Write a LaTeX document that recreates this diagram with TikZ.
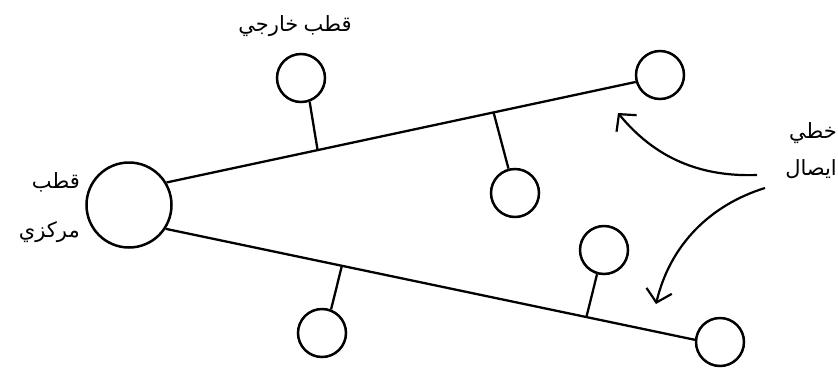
\documentclass[tikz,border=0pt]{standalone}
\usepackage{fontspec}
\newfontfamily\arabicfont[Script=Arabic]{DejaVu Sans}
\TeXXeTstate=1
\usetikzlibrary{arrows.meta}
\begin{document}
\begin{tikzpicture}[x=1pt,y=-1pt,
  pole/.style={draw,circle,line width=2.5pt,inner sep=0pt,minimum size=48pt},
  hub/.style={pole,minimum size=85pt},
  link/.style={line width=2.3pt},
  lbl/.style={font=\arabicfont\fontsize{21}{24}\selectfont,inner sep=0pt},
  pointer/.style={line width=2.2pt,-{Straight Barb[length=12pt,width=26pt]}}]
\useasboundingbox (0,0) rectangle (838,373);
\node[hub] (c) at (129,205) {};
\node[pole] (t) at (660,75) {};
\node[pole] (o) at (301,78) {};
\node[pole] (m) at (515,193) {};
\node[pole] (n) at (604,250) {};
\node[pole] (b) at (720,342) {};
\node[pole] (l) at (322,333) {};
\draw[link] (c.31) -- (t.196) coordinate[pos=0.322] (u1) coordinate[pos=0.697] (u2);
\draw[link] (c.327) -- (b.175) coordinate[pos=0.333] (d1) coordinate[pos=0.795] (d2);
\draw[link] (u1) -- (o.290);
\draw[link] (u2) -- (m.105.6);
\draw[link] (d1) -- (l.69);
\draw[link] (d2) -- (n.254);
\node[lbl] (tO) at (295,26) {\beginR قطب\hspace{0.25em}خارجي\endR};
\node[lbl,anchor=east] (tC1) at (80,182) {\beginR قطب\endR};
\node[lbl,anchor=east] (tC2) at (80,232) {\beginR مركزي\endR};
\node[lbl,anchor=east] (tL1) at (837,133) {\beginR خطي\endR};
\node[lbl,anchor=east] (tL2) at (837,169) {\beginR ايصال\endR};
\coordinate (a1s) at (757,175);
\coordinate (a1e) at (618,113);
\draw[pointer] (a1s) .. controls (700,177) and (655,158) .. (a1e);
\coordinate (a2s) at (765,188);
\coordinate (a2e) at (656,304);
\draw[pointer] (a2s) .. controls (710,205) and (670,245) .. (a2e);
\end{tikzpicture}
\end{document}
